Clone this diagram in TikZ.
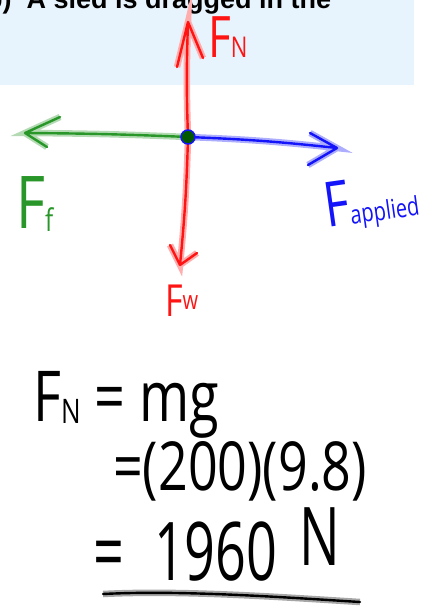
\documentclass[tikz,border=0pt]{standalone}
\usepackage{fontspec}
\setmainfont{Open Sans}
\newfontfamily\headfont{Liberation Sans}
\definecolor{boxblue}{RGB}{232,244,253}
\definecolor{penred}{RGB}{255,20,20}
\definecolor{pengreen}{RGB}{40,150,40}
\definecolor{penblue}{RGB}{20,20,250}
\newcommand{\handtext}[2]{\scalebox{1}[1.3]{\fontsize{#1}{#1}\selectfont #2}}
\newcommand{\hsub}[3]{\raisebox{#1}{\fontsize{#2}{#2}\selectfont #3}}

\begin{document}
\begin{tikzpicture}[x=1pt, y=-1pt,
  pen/.style={draw=#1, line width=2.4pt, line cap=round, line join=round,
    preaction={draw=#1!35, line width=6.5pt}},
  lbl/.style={inner sep=0pt, anchor=base west}]
  \useasboundingbox (0,0) rectangle (441,606);
  % question box, cut off at the top
  \fill[boxblue] (0,0) rectangle (414,85);
  \begin{scope}
    \clip (0,0) rectangle (414,85);
    \node[lbl] (question) at (-14,8) {\headfont\bfseries\fontsize{27}{27}\selectfont b)\ \ A sled is dragged in the};
  \end{scope}
  % forces on the block
  \coordinate (O) at (188,137);
  \coordinate (tipN) at (188,22);
  \coordinate (tipW) at (180,265);
  \coordinate (tipF) at (25,133);
  \coordinate (tipA) at (337,148);
  \draw[pen=penred] (O) to[bend left=2] (tipN) -- +(-11,45) (tipN) -- +(15,36);
  \draw[pen=penred] (O) to[bend left=2] (tipW) -- +(-10,-20) (tipW) -- +(17,-12);
  \draw[pen=pengreen] (O) to[bend right=1] (tipF) -- +(35,-16) (tipF) -- +(22,14);
  \draw[pen=penblue] (O) to[bend left=2] (tipA) -- +(-27,-15) (tipA) -- +(-29,17);
  \fill[green!35!black] (O) circle (7);
  \draw[penblue, line width=1.5pt] (O) circle (7);
  \node[lbl, text=penred] (labN) at (208,57) {\handtext{44}{F\hsub{0pt}{22}{N}}};
  \node[lbl, text=pengreen] (labF) at (16,228) {\handtext{56}{F\hsub{-3pt}{24}{f}}};
  \node[lbl, text=penred] (labW) at (165,316) {\handtext{34}{F\hsub{5pt}{20}{w}}};
  \node[lbl, text=penblue, rotate=8] (labA) at (327,228) {\handtext{48}{F\hsub{0pt}{20}{applied}}};
  % working for the normal force
  \node[lbl] (eqOne) at (33,421) {\handtext{54}{F\hsub{-2pt}{26}{N} = mg}};
  \node[lbl] (eqTwo) at (113,490) {\handtext{52}{=(200)(9.8)}};
  \node[lbl] (eqThree) at (93,580) {\scalebox{1}[1.5]{\fontsize{54}{54}\selectfont =\hspace{30pt}1960\hspace{22pt}\raisebox{10pt}{N}}};
  \coordinate (lineL) at (103,594);
  \coordinate (lineR) at (360,602);
  \draw[pen=black] (lineL) .. controls (180,590) and (280,597) .. (lineR);
\end{tikzpicture}
\end{document}
